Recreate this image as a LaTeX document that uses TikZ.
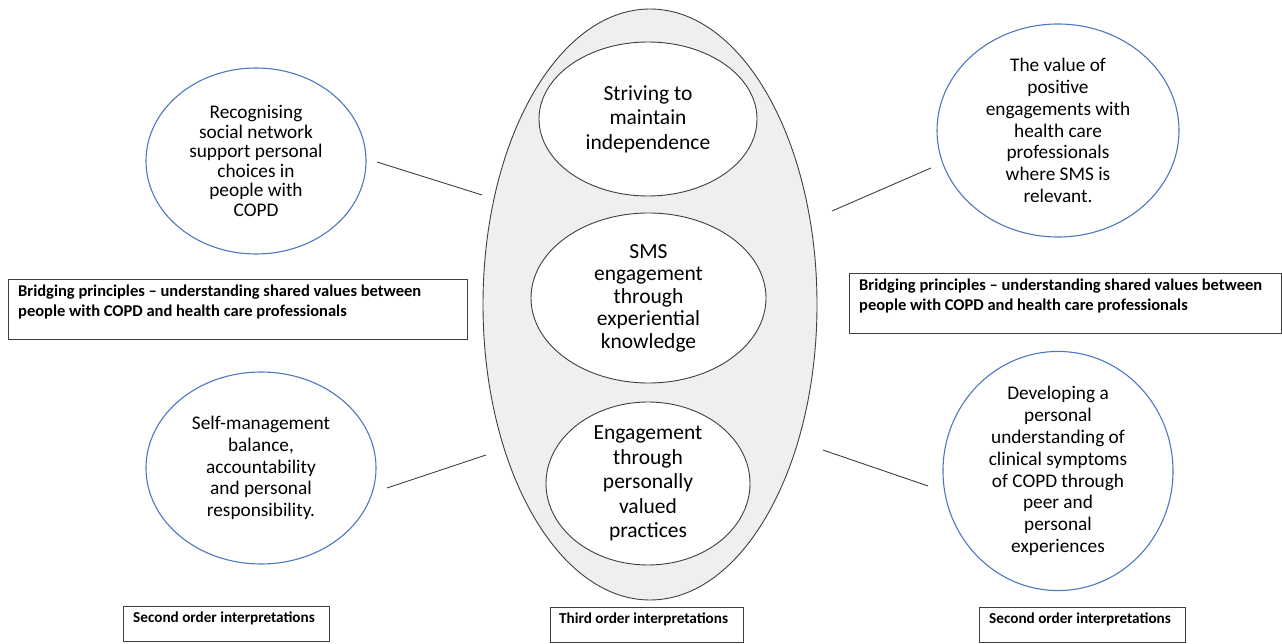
\documentclass[tikz,border=0pt]{standalone}
\usepackage{fontspec}
\setmainfont{Carlito}
\usetikzlibrary{shapes.geometric}

\definecolor{themeblue}{HTML}{4F76C0}
\definecolor{edgegray}{HTML}{3F3F3F}
\definecolor{fillgray}{HTML}{EFEFEF}

\begin{document}
\begin{tikzpicture}[x=1pt, y=-1pt,
  outer/.style={ellipse, draw=edgegray, line width=0.9pt, fill=fillgray, inner sep=0pt},
  subtheme/.style={ellipse, draw=edgegray, line width=0.9pt, fill=white, inner sep=0pt, align=center,
    font=\fontsize{21.5}{24.5}\selectfont},
  theme/.style={ellipse, draw=themeblue, line width=1.1pt, inner sep=0pt, align=center,
    font=\fontsize{19.3}{21.8}\selectfont},
  link/.style={draw=edgegray, line width=0.9pt},
  tagbox/.style={draw=edgegray, line width=0.9pt, inner sep=0pt, anchor=north west},
  tagtext/.style={anchor=north west, inner sep=0pt, align=left,
    font=\fontsize{15.2}{20}\selectfont\bfseries}]

\useasboundingbox (0,0) rectangle (1282,644);

% Third order ellipse with its three themes
\node[outer, minimum width=334, minimum height=591] (third) at (650,304.5) {};
\node[subtheme, minimum width=218, minimum height=154] (strive) at (648,119)
  {Striving to\\maintain\\independence};
\node[subtheme, minimum width=235, minimum height=170,
  font=\fontsize{21.5}{22.5}\selectfont] (sms) at (648.5,298)
  {SMS\\engagement\\through\\experiential\\knowledge};
\node[subtheme, minimum width=204, minimum height=163] (practise) at (648,483.5)
  {Engagement\\through\\personally\\valued\\practices};

% Second order themes
\node[theme, minimum width=220, minimum height=186,
  font=\fontsize{19.3}{19.6}\selectfont] (social) at (256,161)
  {Recognising\\social network\\support personal\\choices in\\people with\\COPD};
\node[theme, minimum width=242, minimum height=213] (value) at (1058,130.5)
  {The value of\\positive\\engagements with\\health care\\professionals\\where SMS is\\relevant.};
\node[theme, minimum width=230, minimum height=192] (selfman) at (261,468)
  {Self-management\\balance,\\accountability\\and personal\\responsibility.};
\node[theme, minimum width=230, minimum height=206] (develop) at (1058,471)
  {Developing a\\personal\\understanding of\\clinical symptoms\\of COPD through\\peer and\\personal\\experiences};

% Connectors (free ends)
\coordinate (socialA) at (377,162);  \coordinate (socialB) at (482,195);
\coordinate (valueA) at (832,211);   \coordinate (valueB) at (931,168);
\coordinate (selfmanA) at (387,488); \coordinate (selfmanB) at (486,455);
\coordinate (developA) at (823,450); \coordinate (developB) at (928,486);
\draw[link] (socialA) -- (socialB);
\draw[link] (valueA) -- (valueB);
\draw[link] (selfmanA) -- (selfmanB);
\draw[link] (developA) -- (developB);

% Bridging principles
\node[tagbox, minimum width=459, minimum height=60] (bridgeL) at (8,279) {};
\node[tagtext, font=\fontsize{16.5}{20}\selectfont\bfseries] (bridgeLtxt)
  at ([xshift=10pt, yshift=-6pt]bridgeL.north west)
  {Bridging principles -- understanding shared values between\\people with COPD and health care professionals};
\node[tagbox, minimum width=432, minimum height=60] (bridgeR) at (849,273) {};
\node[tagtext, font=\fontsize{16.5}{20}\selectfont\bfseries] (bridgeRtxt)
  at ([xshift=10pt, yshift=-6pt]bridgeR.north west)
  {Bridging principles -- understanding shared values between\\people with COPD and health care professionals};

% Interpretation labels
\node[tagbox, minimum width=206, minimum height=35] (secondL) at (123,606) {};
\node[tagtext] (secondLtxt) at ([xshift=10pt, yshift=-6pt]secondL.north west)
  {Second order interpretations};
\node[tagbox, minimum width=193, minimum height=35] (thirdlbl) at (550,607) {};
\node[tagtext] (thirdlbltxt) at ([xshift=9pt, yshift=-6pt]thirdlbl.north west)
  {Third order interpretations};
\node[tagbox, minimum width=206, minimum height=35] (secondR) at (979,607) {};
\node[tagtext] (secondRtxt) at ([xshift=10pt, yshift=-6pt]secondR.north west)
  {Second order interpretations};

\end{tikzpicture}
\end{document}
